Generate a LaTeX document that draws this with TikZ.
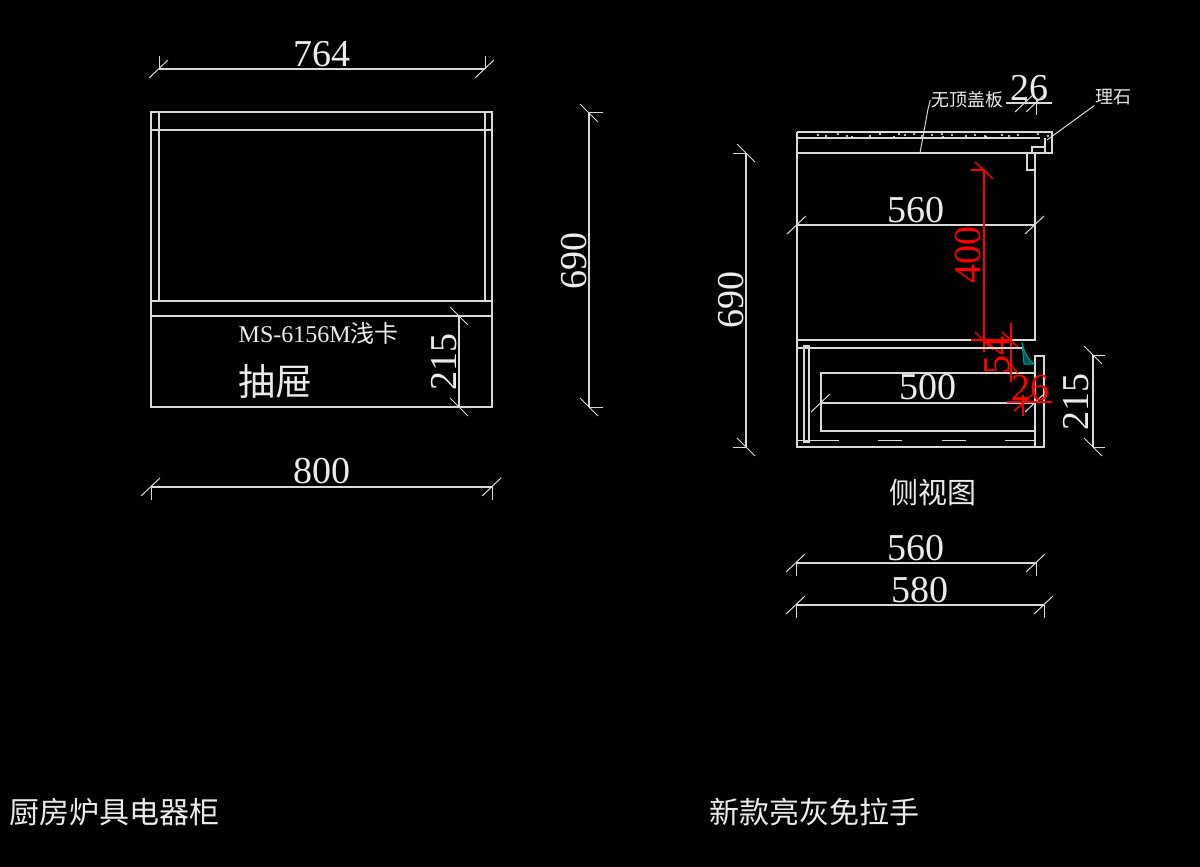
\documentclass[tikz,border=0pt]{standalone}
\usepackage{fontspec}
\setmainfont{Liberation Serif}
\newfontfamily\cjk{Noto Sans CJK SC}
\begin{document}
\begin{tikzpicture}[x=1pt,y=-1pt,line width=1.4pt]
\tikzstyle{wall}=[draw=white!85!black]
\tikzstyle{thin}=[draw=white!85!black,line width=1pt]
\tikzstyle{redline}=[draw=red,line width=1.4pt]
\tikzstyle{num}=[text=white!92!black,inner sep=0pt,font=\fontsize{38}{38}\selectfont]
\tikzstyle{rednum}=[text=red,inner sep=0pt,font=\fontsize{38}{38}\selectfont]
\tikzstyle{note}=[text=white!92!black,inner sep=0pt,font=\cjk\fontsize{30}{30}\selectfont]
\tikzstyle{small}=[text=white!92!black,inner sep=0pt,font=\cjk\fontsize{18}{18}\selectfont]
\fill[black] (0,0) rectangle (1200,867);
\useasboundingbox (0,0) rectangle (1200,867);
% tick across a dimension end
\def\tick#1#2{\draw[thin] (#1-10,#2+9) -- (#1+9,#2-9);}
\def\rtick#1#2{\draw[thin] (#1-9,#2-9) -- (#1+9,#2+9);}
% front view
\draw[wall] (151,112) rectangle (492,407);
\draw[wall] (159,112) -- (159,301);
\draw[wall] (485,112) -- (485,301);
\draw[wall] (151,130) -- (492,130);
\draw[wall] (151,301) -- (492,301);
\draw[wall] (151,316) -- (492,316);
\coordinate (a1) at (159,69);
\coordinate (a2) at (485,69);
\draw[wall] (a1) -- (a2);
\draw[thin] (a1) -- +(0,-13);
\draw[thin] (a2) -- +(0,-13);
\tick{159}{69}
\tick{485}{69}
\node[num] (w764) at (322,54) {764};
\coordinate (b1) at (151,487);
\coordinate (b2) at (492,487);
\draw[wall] (b1) -- (b2);
\draw[thin] (b1) -- +(0,13);
\draw[thin] (b2) -- +(0,13);
\tick{151}{487}
\tick{492}{487}
\node[num] (w800) at (321.5,471) {800};
\coordinate (c1) at (589,112);
\coordinate (c2) at (589,407);
\draw[wall] (c1) -- (c2);
\draw[thin] (c1) -- +(14,0);
\draw[thin] (c2) -- +(14,0);
\rtick{589}{113}
\rtick{589}{407}
\node[num,rotate=90] (h690a) at (574,260.5) {690};
\coordinate (d1) at (459,316);
\coordinate (d2) at (459,407);
\draw[wall] (d1) -- (d2);
\rtick{459}{316}
\rtick{459}{407}
\node[num,rotate=90] (h215a) at (444,362) {215};
\node[text=white!92!black,inner sep=0pt,anchor=west,font=\fontsize{24}{24}\selectfont] (model) at (238,333) {MS-6156M{\cjk\fontsize{24}{24}\selectfont 浅卡}};
\node[note,anchor=west,font=\cjk\fontsize{37}{37}\selectfont] (drawer) at (238,381) {抽屉};
% side view
\draw[wall] (797,132) -- (797,447) -- (1044,447) -- (1044,356) -- (1035,356) -- (1035,447);
\draw[wall] (797,132) -- (1052,132) -- (1052,153) -- (797,153);
\draw[wall] (797,138) -- (1040,138);
\draw[wall] (1045,138) -- (1045,153);
\draw[wall] (1045,147) -- (1032,147) -- (1032,153);
\draw[wall] (1027,153) -- (1027,170) -- (1035,170);
\draw[wall] (1035,153) -- (1035,340) -- (797,340);
\draw[wall] (804,346) rectangle (809,442);
\draw[wall] (821,373) rectangle (1035,431);
\draw[thin] (797,440) -- (839,440);
\draw[thin] (878,440) -- (902,440);
\draw[thin] (942,440) -- (966,440);
\draw[thin] (1005,440) -- (1035,440);
% speckle in the top slab
\foreach \sx/\sy in {818/135,826/136,838/134,847/136,852/137,870/136,880/134,894/137,899/134,905/135,914/134,922/136,932/135,942/134,943/137,952/135,966/136,975/135,985/136,986/137,1002/135,1009/136,1018/135,1038/134,1048/136}
  \fill[white] (\sx,\sy) circle (1.1);
% dimensions of the side view
\coordinate (e1) at (797,225);
\coordinate (e2) at (1035,225);
\draw[wall] (e1) -- (e2);
\tick{797}{225}
\tick{1035}{225}
\node[num] (s560) at (916,210) {560};
\coordinate (f1) at (821,403);
\coordinate (f2) at (1035,403);
\draw[wall] (f1) -- (f2);
\tick{821}{403}
\tick{1035}{403}
\node[num] (s500) at (928,387) {500};
\coordinate (g1) at (746,153);
\coordinate (g2) at (746,447);
\draw[wall] (g1) -- (g2);
\draw[thin] (g1) -- +(-13,0);
\draw[thin] (g2) -- +(-13,0);
\rtick{746}{153}
\rtick{746}{447}
\node[num,rotate=90] (h690b) at (731,300) {690};
\coordinate (k1) at (1093,355);
\coordinate (k2) at (1093,447);
\draw[wall] (k1) -- (k2);
\draw[thin] (k1) -- +(12,0);
\draw[thin] (k2) -- +(12,0);
\rtick{1093}{355}
\rtick{1093}{447}
\node[num,rotate=90] (h215b) at (1076,402) {215};
\coordinate (m1) at (796,563);
\coordinate (m2) at (1036,563);
\draw[wall] (m1) -- (m2);
\draw[thin] (m1) -- +(0,13);
\draw[thin] (m2) -- +(0,13);
\tick{796}{563}
\tick{1036}{563}
\node[num] (b560) at (916,548) {560};
\coordinate (n1) at (796,605);
\coordinate (n2) at (1044,605);
\draw[wall] (n1) -- (n2);
\draw[thin] (n1) -- +(0,13);
\draw[thin] (n2) -- +(0,13);
\tick{796}{605}
\tick{1044}{605}
\node[num] (b580) at (920,590.5) {580};
% top dimension and leaders
\coordinate (p1) at (1006,103);
\coordinate (p2) at (1052,103);
\draw[wall] (p1) -- (p2);
\draw[thin] (1036,100) -- (1036,115);
\draw[thin] (1025,98) -- (1025,103);
\tick{1025}{103}
\tick{1036}{103}
\node[num] (t26) at (1029,88) {26};
\node[small] (cover) at (967,100) {无顶盖板};
\node[small] (stone) at (1113,97) {理石};
\coordinate (q1) at (920,153);
\coordinate (q2) at (928,109);
\draw[thin] (q1) -- (q2) -- (cover.west);
\coordinate (u1) at (1047,140);
\draw[thin] (u1) -- (stone.south west);
% red dimensions
\coordinate (r1) at (984,170);
\coordinate (r2) at (984,352);
\draw[redline] (971,170) -- (r1) -- (r2);
\draw[redline] (975,162) -- (993,179);
\draw[redline] (971,340) -- (1011,340);
\draw[redline] (975,332) -- (993,350);
\draw[redline] (1002,332) -- (1020,349);
\draw[redline] (1011,323) -- (1011,382);
\draw[redline] (1005,359) -- (1018,373);
\node[rednum] (r26) at (1030,388) {26};
\node[rednum,rotate=90] (r400) at (968.5,255) {400};
\node[rednum,rotate=90] (r54) at (997,355) {54};
\coordinate (v1) at (1007,402);
\coordinate (v2) at (1052,402);
\draw[redline] (v1) -- (v2);
\draw[redline] (1014,411) -- (1032,395);
\draw[redline] (1023,395) -- (1023,416);
\draw[wall] (797,348) -- (1023,348);
\draw[draw=teal!80!cyan,line width=1pt,fill=teal!70!black] (1022,342) .. controls (1024,352) and (1027,358) .. (1034,364) -- (1024,364) -- cycle;
% captions
\node[note,font=\cjk\fontsize{29}{29}\selectfont] (side) at (933,493) {侧视图};
\node[note,anchor=west] (title1) at (9,812) {厨房炉具电器柜};
\node[note,anchor=west] (title2) at (709,812) {新款亮灰免拉手};
\end{tikzpicture}
\end{document}
